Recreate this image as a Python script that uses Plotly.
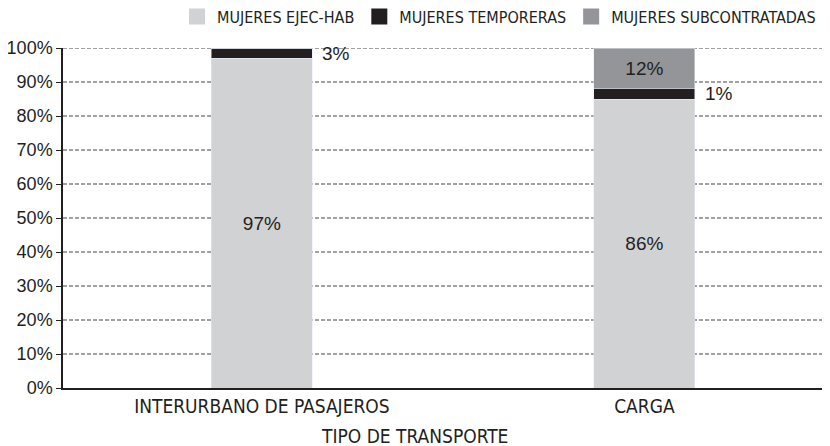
import plotly.graph_objects as go

categories = ["INTERURBANO DE PASAJEROS", "CARGA"]
series_names = ["MUJERES EJEC-HAB", "MUJERES TEMPORERAS", "MUJERES SUBCONTRATADAS"]
ejec_hab = [97, 85]
temporeras = [3, 3]
subcontratadas = [0, 12]
ejec_labels = ["97%", "86%"]
temp_labels = ["3%", "1%"]
sub_labels = ["", "12%"]
y_ticks = [0, 10, 20, 30, 40, 50, 60, 70, 80, 90, 100]
y_ticklabels = [f"{v}%" for v in y_ticks]
x_title = "TIPO DE TRANSPORTE"

colors = ["#d1d2d4", "#231f20", "#939598"]
xpos = list(range(len(categories)))
bar_w = 0.264
narrow = "DejaVu Sans Condensed, Liberation Sans Narrow, sans-serif"
regular = "Liberation Sans, Arial, sans-serif"

fig = go.Figure()
fig.add_trace(go.Bar(x=xpos, y=ejec_hab, name=series_names[0], marker_color=colors[0],
                     width=bar_w, text=ejec_labels, textposition="inside",
                     insidetextanchor="middle", showlegend=False,
                     textfont=dict(family=regular, size=19, color="#231f20")))
fig.add_trace(go.Bar(x=xpos, y=temporeras, name=series_names[1], marker_color=colors[1],
                     width=bar_w, textposition="none", showlegend=False))
fig.add_trace(go.Bar(x=xpos, y=subcontratadas, name=series_names[2], marker_color=colors[2],
                     width=bar_w, text=sub_labels, textposition="inside",
                     insidetextanchor="middle", showlegend=False,
                     textfont=dict(family=regular, size=19, color="#231f20")))

# legend entries with larger square swatches
for name, c in zip(series_names, colors):
    fig.add_trace(go.Scatter(x=[None], y=[None], mode="markers", name=name,
                             marker=dict(symbol="square", size=16, color=c,
                                         line=dict(width=0))))

for i in xpos:
    fig.add_annotation(x=i + bar_w / 2, y=ejec_hab[i] + temporeras[i] / 2,
                       text=temp_labels[i], showarrow=False, xanchor="left",
                       xshift=8, font=dict(family=regular, size=19, color="#231f20"))

fig.add_annotation(x=0.46, xref="paper", y=-0.141, yref="paper", yanchor="middle",
                   text=x_title, showarrow=False,
                   font=dict(family=narrow, size=19, color="#231f20"))

for v in y_ticks[1:]:
    fig.add_shape(type="line", xref="paper", x0=0, x1=1, y0=v, y1=v,
                  line=dict(color="#444444", width=1, dash="4px,2px"), layer="below")

fig.update_layout(
    barmode="stack",
    width=822, height=438,
    margin=dict(l=55, r=2, t=40, b=58, autoexpand=False),
    paper_bgcolor="white", plot_bgcolor="white",
    showlegend=True,
    legend=dict(orientation="h", x=0.149, xanchor="left", y=1.092, yanchor="middle",
                font=dict(family=narrow, size=16, color="#231f20"),
                traceorder="normal", itemwidth=30, bgcolor="rgba(0,0,0,0)"),
    xaxis=dict(range=[-0.52, 1.48], tickvals=xpos, ticktext=categories,
               showgrid=False, zeroline=False, showline=True, linecolor="#231f20",
               linewidth=1.5, ticks="", tickfont=dict(family=narrow, size=19, color="#231f20")),
    yaxis=dict(range=[0, 100], tickvals=y_ticks, ticktext=y_ticklabels,
               showgrid=False, zeroline=False, showline=True, linecolor="#231f20",
               linewidth=1.5, ticks="outside", ticklen=5, tickcolor="#231f20",
               tickfont=dict(family=regular, size=18, color="#231f20")),
)

fig.write_html("out.html")
